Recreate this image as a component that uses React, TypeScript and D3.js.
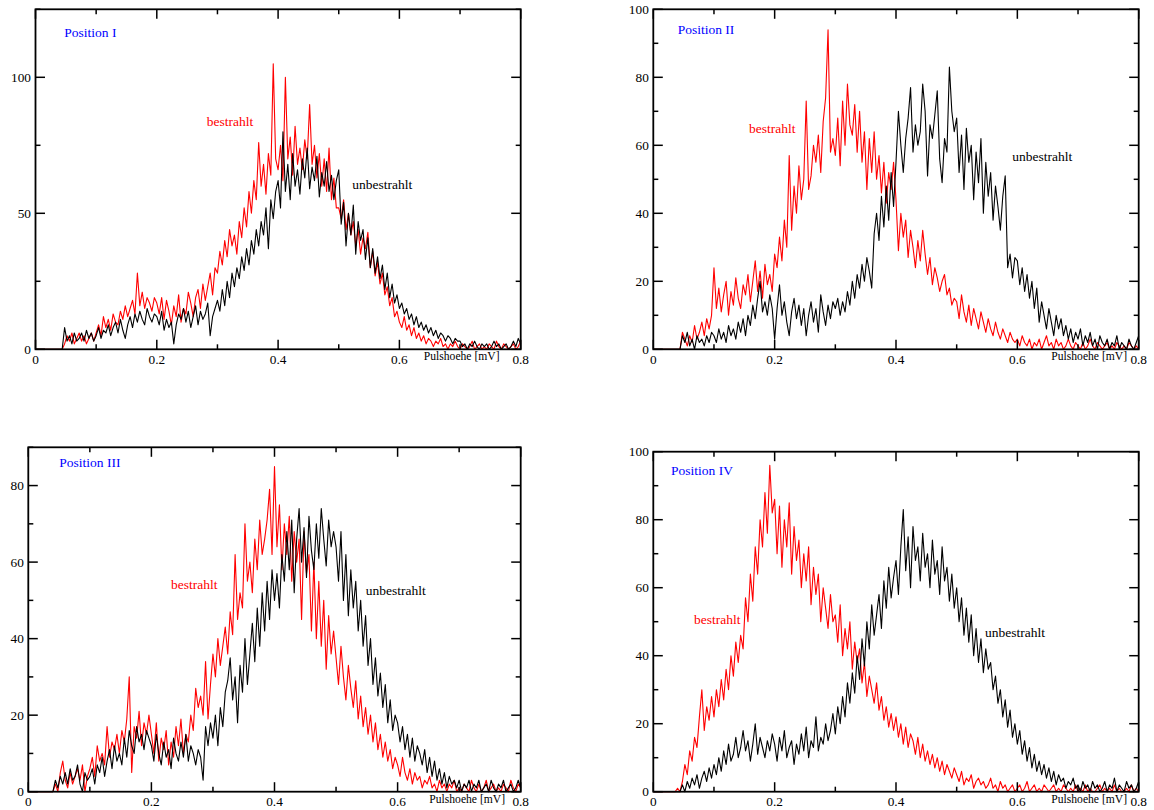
import React from "react";
import * as d3 from "d3";

// bin width of the histograms (mV)
const BIN = 0.004;
const X_MAJOR = [0, 0.2, 0.4, 0.6, 0.8];
const X_MINOR = [0.1, 0.3, 0.5, 0.7];
const X_LABELS = ["0", "0.2", "0.4", "0.6", "0.8"];
const X_TITLE = "Pulshoehe [mV]";
const SERIES_NAMES = ["bestrahlt", "unbestrahlt"];
const PANEL_TITLES = ["Position I", "Position II", "Position III", "Position IV"];

// Position I
const P1_BESTRAHLT = [
  0,0,0,0,0,0,0,0,0,0,0,0,2,5,3,6,2,4,6,3,5,2,4,6,3,
  6,9,5,12,8,11,7,13,10,9,14,11,16,12,15,18,13,28,16,21,15,19,17,14,19,
  17,13,19,11,18,14,9,16,12,20,10,15,13,21,17,12,19,22,15,24,18,23,28,20,30,
  28,36,31,40,34,44,38,42,35,47,41,52,45,58,50,62,55,76,60,68,57,72,64,105,70,
  66,75,62,100,70,78,64,82,68,74,66,77,70,90,68,75,63,72,60,70,58,74,55,63,52,
  52,48,55,44,50,42,47,38,44,35,41,37,43,30,36,27,32,24,28,20,23,16,19,12,14,
  10,8,12,7,9,5,8,4,6,3,5,2,4,3,1,3,2,4,1,2,0,2,1,3,1,
  0,2,1,0,1,3,0,1,2,0,1,0,2,1,0,3,1,0,2,1,0,1,2,0,1,3,
];
const P1_UNBESTRAHLT = [
  0,0,0,0,0,0,0,0,0,0,0,0,8,3,5,2,6,3,4,6,3,7,4,6,3,
  5,8,4,7,6,9,5,8,10,6,11,7,4,9,12,8,13,10,14,11,9,15,12,10,13,
  12,9,14,7,11,8,10,2,9,13,11,15,10,14,8,12,16,9,14,11,13,17,5,12,15,
  18,14,22,16,25,19,28,23,30,26,34,29,37,31,40,35,44,38,47,42,52,37,55,48,58,
  62,52,80,58,68,55,72,60,66,57,70,63,74,59,67,62,71,56,65,60,69,58,64,55,62,
  66,46,54,38,50,42,53,35,47,40,44,33,41,30,37,28,34,26,31,22,28,19,24,17,20,
  15,17,13,15,11,13,9,12,8,10,7,9,6,8,5,7,4,6,5,3,5,4,2,4,3,
  3,1,2,0,2,1,3,1,0,2,1,2,0,1,3,1,2,0,1,2,0,1,3,1,4,2,
];

// Position II
const P2_BESTRAHLT = [
  0,0,0,0,0,0,0,0,0,0,0,0,5,3,1,4,2,7,3,5,8,4,9,6,10,
  24,12,18,11,16,20,10,17,13,21,15,12,19,16,22,14,20,26,17,23,15,25,19,22,17,
  28,24,33,26,38,30,57,35,48,40,54,44,50,73,47,51,60,55,63,52,67,74,94,58,62,
  57,68,54,73,60,78,66,63,72,58,70,55,64,47,62,52,64,50,57,46,55,43,52,47,55,
  44,29,40,33,38,27,35,30,24,32,26,35,28,22,27,19,24,21,17,20,22,16,18,13,15,
  14,9,16,11,8,13,7,12,9,6,11,8,5,9,6,4,8,5,3,6,4,2,5,3,2,
  3,1,4,2,1,3,0,2,1,3,0,2,4,1,2,0,3,1,2,0,1,3,1,0,2,
  1,0,2,0,1,3,1,0,2,1,0,1,2,0,1,0,2,1,0,1,0,2,1,0,1,0,
];
const P2_UNBESTRAHLT = [
  0,0,0,0,0,0,0,0,0,0,0,0,4,2,5,1,3,0,4,2,3,1,4,2,5,
  4,2,6,3,5,2,7,4,6,3,8,5,9,4,10,7,13,9,15,20,11,14,10,16,12,
  3,12,19,10,14,8,4,11,15,9,13,7,12,4,10,14,8,12,5,16,11,7,13,9,14,
  12,15,10,14,11,17,13,20,15,22,18,25,20,27,23,18,34,40,32,45,36,48,38,52,42,
  55,70,60,52,62,68,77,58,66,60,64,78,70,51,66,62,69,76,56,49,62,58,83,70,64,
  68,52,63,47,65,55,60,44,58,49,62,40,55,45,52,38,48,42,35,45,51,24,28,21,27,
  26,19,24,17,22,15,20,12,18,8,14,10,6,12,8,4,10,6,9,4,7,3,6,2,5,
  3,6,1,4,2,5,1,3,0,4,2,1,3,0,2,1,4,0,2,1,0,3,1,0,2,4,
];

// Position III
const P3_BESTRAHLT = [
  0,0,0,0,0,0,0,0,0,0,0,2,0,5,8,3,1,5,2,4,6,3,7,0,4,
  6,9,4,12,8,10,7,17,9,13,11,15,10,16,13,19,30,5,17,14,21,12,18,15,20,
  15,10,18,8,14,11,16,7,13,9,17,12,19,10,15,13,20,16,27,22,25,20,34,19,28,
  36,30,40,33,38,43,36,47,41,62,45,52,48,70,55,60,52,66,58,71,62,66,71,79,62,
  85,64,75,58,70,62,72,55,68,60,66,45,68,57,62,42,60,40,55,38,50,32,46,36,42,
  35,28,38,30,24,33,27,22,29,19,25,17,22,15,20,13,18,11,15,9,13,8,11,6,9,
  7,4,9,5,3,6,2,5,3,4,1,3,2,4,1,2,0,3,1,2,0,2,1,3,0,
  1,0,2,1,0,3,1,0,2,0,1,3,0,1,2,0,1,0,2,1,0,3,1,0,2,1,
];
const P3_UNBESTRAHLT = [
  0,0,0,0,0,0,0,0,0,0,0,3,1,4,2,5,2,6,3,4,7,2,0,5,3,
  4,6,2,7,5,9,4,8,11,6,12,8,10,7,14,9,16,12,10,17,13,15,11,16,14,
  12,8,15,10,7,13,9,11,6,14,10,8,13,9,15,8,12,10,7,11,9,3,17,12,18,
  14,20,12,22,17,26,29,35,24,30,18,33,26,40,28,36,44,34,48,38,52,42,55,45,58,
  50,57,48,62,55,68,58,71,52,66,74,60,69,56,72,63,58,70,61,74,66,59,71,64,68,
  64,55,68,50,62,46,58,48,55,42,50,38,46,33,40,28,35,25,31,22,28,18,24,16,20,
  18,13,17,11,15,9,14,8,12,10,7,11,5,9,4,8,3,6,2,5,1,4,2,3,1,
  3,0,2,1,3,0,2,1,3,0,1,2,0,3,1,0,2,1,3,0,1,2,0,1,3,1,
];

// Position IV
const P4_BESTRAHLT = [
  0,0,0,0,0,0,0,0,0,0,1,0,3,8,5,12,9,16,13,22,30,18,25,21,28,
  22,30,25,33,27,36,30,40,34,44,38,46,42,57,50,64,56,72,64,80,72,88,76,96,82,
  86,70,84,66,80,72,85,64,78,68,74,60,70,62,72,55,66,58,64,50,60,54,48,58,50,
  52,44,55,40,48,42,50,36,44,38,42,32,38,28,34,30,26,32,24,28,21,25,19,23,18,
  22,16,20,14,19,13,17,15,11,16,10,14,9,12,8,11,7,10,6,9,5,8,6,4,7,
  5,3,6,2,4,3,5,1,3,4,2,3,1,2,4,1,2,0,3,1,2,0,1,2,0,
  1,2,0,1,3,0,1,2,0,1,0,2,1,0,1,2,0,1,0,2,1,0,1,0,2,
  0,1,0,2,0,1,0,0,1,2,0,1,0,1,0,2,0,1,0,0,1,0,2,0,1,0,
];
const P4_UNBESTRAHLT = [
  0,0,0,0,0,0,0,0,0,0,0,0,2,0,3,1,4,2,5,1,4,6,3,7,4,
  8,5,10,6,12,8,14,9,11,16,10,13,18,12,15,9,14,20,11,16,13,10,15,12,17,
  14,9,16,12,18,10,13,15,8,14,11,17,12,19,10,15,13,22,12,16,14,20,15,18,23,
  17,25,20,28,22,32,26,35,29,40,33,45,37,50,42,55,46,52,58,48,62,54,66,57,63,
  68,58,72,83,65,75,60,78,68,72,62,76,66,70,60,74,64,68,58,72,62,66,56,64,54,
  60,50,57,46,54,44,52,40,48,38,45,35,42,36,38,30,34,26,30,22,27,19,24,16,20,
  14,18,11,15,9,13,7,11,6,9,5,8,4,7,3,6,2,5,3,4,1,3,2,4,1,
  2,0,3,1,2,0,3,1,2,0,1,3,0,2,1,4,0,2,1,0,3,1,2,0,1,3,
];

const FONT = "'Liberation Serif', 'Times New Roman', serif";

type Cfg = {
  title: string;
  red: number[];
  black: number[];
  x0: number; x1: number; yTop: number; yBot: number;
  yMax: number; yMajor: number; yMinor: number;
  titlePos: [number, number];
  redPos: [number, number];
  blackPos: [number, number];
  xTitleEnd: [number, number];
  tickBase: number;
};

const PANELS: Cfg[] = [
  {
    title: PANEL_TITLES[0], red: P1_BESTRAHLT, black: P1_UNBESTRAHLT,
    x0: 35.5, x1: 520.7, yTop: 9.3, yBot: 349.3, yMax: 125, yMajor: 50, yMinor: 25,
    titlePos: [64.3, 37.2], redPos: [206.7, 126], blackPos: [352.3, 188.5],
    xTitleEnd: [499.5, 359.5], tickBase: 363.8,
  },
  {
    title: PANEL_TITLES[1], red: P2_BESTRAHLT, black: P2_UNBESTRAHLT,
    x0: 653.3, x1: 1138.7, yTop: 9.3, yBot: 349.3, yMax: 100, yMajor: 20, yMinor: 10,
    titlePos: [677.7, 34], redPos: [749, 132.7], blackPos: [1012.3, 160.7],
    xTitleEnd: [1127, 359.5], tickBase: 363.8,
  },
  {
    title: PANEL_TITLES[2], red: P3_BESTRAHLT, black: P3_UNBESTRAHLT,
    x0: 28.3, x1: 520.7, yTop: 447.3, yBot: 791.7, yMax: 90, yMajor: 20, yMinor: 10,
    titlePos: [59.3, 467], redPos: [171, 588.5], blackPos: [365.7, 595],
    xTitleEnd: [505, 802.7], tickBase: 806,
  },
  {
    title: PANEL_TITLES[3], red: P4_BESTRAHLT, black: P4_UNBESTRAHLT,
    x0: 653.3, x1: 1138.7, yTop: 451.7, yBot: 791.7, yMax: 100, yMajor: 20, yMinor: 10,
    titlePos: [671, 474.5], redPos: [694, 624], blackPos: [985, 636.5],
    xTitleEnd: [1127, 802.7], tickBase: 806,
  },
];

const MAJOR_LEN = 9.5;
const MINOR_LEN = 5;

function Panel({ cfg }: { cfg: Cfg }) {
  const x = d3.scaleLinear().domain([0, 0.8]).range([cfg.x0, cfg.x1]);
  const y = d3.scaleLinear().domain([0, cfg.yMax]).range([cfg.yBot, cfg.yTop]);
  const line = d3
    .line<number>()
    .x((_, i) => x(i * BIN))
    .y((d) => y(d));

  const yMajorTicks = d3.range(0, cfg.yMax + 1e-9, cfg.yMajor);
  const yMinorTicks = d3
    .range(cfg.yMinor, cfg.yMax + 1e-9, cfg.yMajor)
    .filter((v) => yMajorTicks.indexOf(v) < 0);

  const tickEls: React.ReactNode[] = [];
  X_MAJOR.forEach((v, i) => {
    const px = x(v);
    tickEls.push(<line key={"xb" + i} x1={px} x2={px} y1={cfg.yBot} y2={cfg.yBot - MAJOR_LEN} />);
    tickEls.push(<line key={"xt" + i} x1={px} x2={px} y1={cfg.yTop} y2={cfg.yTop + MAJOR_LEN} />);
  });
  X_MINOR.forEach((v, i) => {
    const px = x(v);
    tickEls.push(<line key={"xbm" + i} x1={px} x2={px} y1={cfg.yBot} y2={cfg.yBot - MINOR_LEN} />);
    tickEls.push(<line key={"xtm" + i} x1={px} x2={px} y1={cfg.yTop} y2={cfg.yTop + MINOR_LEN} />);
  });
  yMajorTicks.forEach((v, i) => {
    const py = y(v);
    tickEls.push(<line key={"yl" + i} x1={cfg.x0} x2={cfg.x0 + MAJOR_LEN} y1={py} y2={py} />);
    tickEls.push(<line key={"yr" + i} x1={cfg.x1} x2={cfg.x1 - MAJOR_LEN} y1={py} y2={py} />);
  });
  yMinorTicks.forEach((v, i) => {
    const py = y(v);
    tickEls.push(<line key={"ylm" + i} x1={cfg.x0} x2={cfg.x0 + MINOR_LEN} y1={py} y2={py} />);
    tickEls.push(<line key={"yrm" + i} x1={cfg.x1} x2={cfg.x1 - MINOR_LEN} y1={py} y2={py} />);
  });

  return (
    <g>
      <path d={line(cfg.red) || ""} fill="none" stroke="#ff0000" strokeWidth={1.1} strokeLinejoin="round" />
      <path d={line(cfg.black) || ""} fill="none" stroke="#000000" strokeWidth={1.1} strokeLinejoin="round" />
      <rect
        x={cfg.x0}
        y={cfg.yTop}
        width={cfg.x1 - cfg.x0}
        height={cfg.yBot - cfg.yTop}
        fill="none"
        stroke="#000"
        strokeWidth={1.8}
      />
      <g stroke="#000" strokeWidth={1.5}>{tickEls}</g>
      <g fontFamily={FONT} fontSize={13.3} fill="#000">
        {X_MAJOR.map((v, i) => (
          <text key={"xl" + i} x={x(v)} y={cfg.tickBase} textAnchor="middle">
            {X_LABELS[i]}
          </text>
        ))}
        {yMajorTicks.map((v, i) => (
          <text key={"ylb" + i} x={cfg.x0 - 4.5} y={y(v)} textAnchor="end" dy="0.35em">
            {String(v)}
          </text>
        ))}
      </g>
      <text x={cfg.xTitleEnd[0]} y={cfg.xTitleEnd[1]} textAnchor="end" fontFamily={FONT} fontSize={11.6} fill="#000">
        {X_TITLE}
      </text>
      <text x={cfg.titlePos[0]} y={cfg.titlePos[1]} fontFamily={FONT} fontSize={13.5} fill="#0000ff">
        {cfg.title}
      </text>
      <text x={cfg.redPos[0]} y={cfg.redPos[1]} fontFamily={FONT} fontSize={13.5} fill="#ff0000">
        {SERIES_NAMES[0]}
      </text>
      <text x={cfg.blackPos[0]} y={cfg.blackPos[1]} fontFamily={FONT} fontSize={13.5} fill="#000">
        {SERIES_NAMES[1]}
      </text>
    </g>
  );
}

export default function App() {
  return (
    <svg
      width={1154}
      height={810}
      viewBox="0 0 1154 810"
      style={{ position: "absolute", left: 0, top: 0, background: "#fff", display: "block" }}
    >
      <rect x={0} y={0} width={1154} height={810} fill="#fff" />
      {PANELS.map((cfg, i) => (
        <Panel key={i} cfg={cfg} />
      ))}
    </svg>
  );
}
